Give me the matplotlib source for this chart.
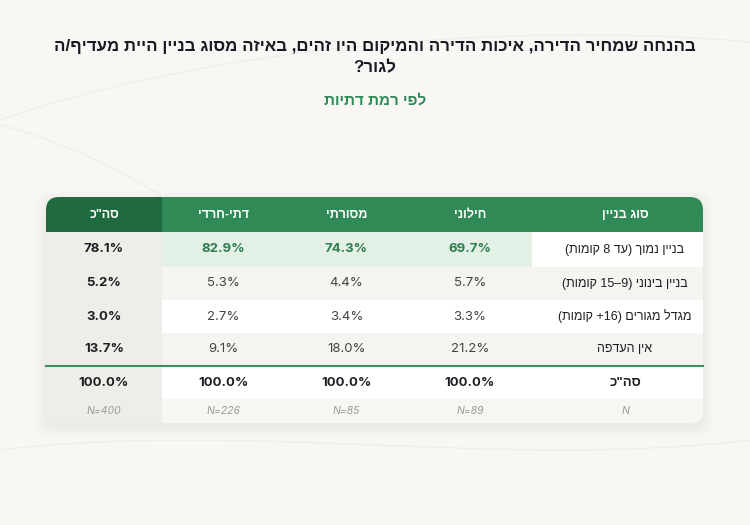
import re
import matplotlib
matplotlib.use("Agg")
import matplotlib.pyplot as plt
from matplotlib.patches import FancyBboxPatch, Rectangle, PathPatch
from matplotlib.path import Path

# נתונים
title_lines = ["בהנחה שמחיר הדירה, איכות הדירה והמיקום היו זהים, באיזה מסוג בניין היית מעדיף/ה",
               "לגור?"]
subtitle = "לפי רמת דתיות"
corner_label = "סוג בניין"
groups = ["חילוני", "מסורתי", "דתי-חרדי"]
total_label = 'סה"כ'
categories = ["בניין נמוך (עד 8 קומות)", "בניין בינוני (9–15 קומות)",
              "מגדל מגורים (16+ קומות)", "אין העדפה"]
secular = [69.7, 5.7, 3.3, 21.2]
traditional = [74.3, 4.4, 3.4, 18.0]
religious = [82.9, 5.3, 2.7, 9.1]
total = [78.1, 5.2, 3.0, 13.7]
col_sums = [100.0, 100.0, 100.0, 100.0]
n_sizes = [89, 85, 226, 400]


def rtl(s):
    # סדר תצוגה ויזואלי לעברית (matplotlib לא תומך ב-bidi)
    parts = re.findall(r'[0-9A-Za-z.%]+|.', s)
    out = ''.join(reversed(parts))
    return out.translate(str.maketrans('()', ')('))


HEB = ['Liberation Sans', 'DejaVu Sans']
NUM = ['Inter', 'Liberation Sans', 'DejaVu Sans']

BG = '#f8f7f3'
GREEN = '#2f8a55'
DARK_GREEN = '#1f6b3f'
LIGHT_GREEN = '#e2f0e6'
ALT = '#f5f4f0'
TOTAL_BG = '#efede8'
INK = '#1a1a26'

fig = plt.figure(figsize=(7.5, 5.25), dpi=100)
fig.patch.set_facecolor(BG)
ax = fig.add_axes([0, 0, 1, 1])
ax.set_xlim(0, 750)
ax.set_ylim(525, 0)
ax.axis('off')

# קווי רקע עדינים
for verts in [[(0, 120), (200, 50), (500, 20), (750, 42)],
              [(0, 450), (250, 420), (500, 470), (750, 440)],
              [(160, 195), (120, 170), (60, 140), (0, 125)]]:
    ax.add_patch(PathPatch(Path(verts, [Path.MOVETO, Path.CURVE4, Path.CURVE4, Path.CURVE4]),
                           fc='none', ec='#efede8', lw=0.8, zorder=0))

# כותרות
ax.text(375, 46, rtl(title_lines[0]), ha='center', va='center', fontsize=12.2,
        fontweight='bold', color=INK, family=HEB)
ax.text(375, 68, rtl(title_lines[1]), ha='center', va='center', fontsize=12.2,
        fontweight='bold', color=INK, family=HEB)
ax.text(375, 100, rtl(subtitle), ha='center', va='center', fontsize=11,
        fontweight='bold', color=GREEN, family=HEB)

# גבולות טבלה
x0, x1 = 46, 703
col_edges = [46, 162, 285, 408, 532, 703]   # סה"כ, דתי-חרדי, מסורתי, חילוני, תווית
row_edges = [197, 232, 267, 300, 333, 366, 399, 423]

# צל
for i, a in enumerate([0.025, 0.02, 0.015, 0.01]):
    pad = 2 + i * 3
    ax.add_patch(FancyBboxPatch((x0 - pad, row_edges[0] - pad + 4), x1 - x0 + 2 * pad,
                                row_edges[-1] - row_edges[0] + 2 * pad,
                                boxstyle='round,pad=0,rounding_size=16', fc='#6b6250',
                                ec='none', alpha=a, zorder=1))

clip = FancyBboxPatch((x0, row_edges[0]), x1 - x0, row_edges[-1] - row_edges[0],
                      boxstyle='round,pad=0,rounding_size=13', fc='white', ec='none', zorder=2)
ax.add_patch(clip)


def cell(c, r, color):
    rect = Rectangle((col_edges[c], row_edges[r]), col_edges[c + 1] - col_edges[c],
                     row_edges[r + 1] - row_edges[r], fc=color, ec='none', zorder=3)
    ax.add_patch(rect)
    rect.set_clip_path(clip)


def cx(c):
    return (col_edges[c] + col_edges[c + 1]) / 2


def cy(r):
    return (row_edges[r] + row_edges[r + 1]) / 2


# כותרת הטבלה
for c in range(5):
    cell(c, 0, DARK_GREEN if c == 0 else GREEN)
header = [total_label] + groups[::-1] + [corner_label]
for c, h in enumerate(header):
    x = 625 if c == 4 else cx(c)
    ax.text(x, cy(0), rtl(h), ha='center', va='center', fontsize=9, fontweight='bold',
            color='white', family=HEB, zorder=5)

# שורות נתונים
cols = [total, religious, traditional, secular]
for i, cat in enumerate(categories):
    r = i + 1
    if i == 0:
        row_bg = LIGHT_GREEN
    elif i % 2 == 1:
        row_bg = ALT
    else:
        row_bg = 'white'
    cell(0, r, TOTAL_BG)
    for c in range(1, 4):
        cell(c, r, row_bg)
    cell(4, r, 'white' if i == 0 else row_bg)
    ax.text(625, cy(r), rtl(cat), ha='center', va='center', fontsize=9,
            color='#1e1e24', family=HEB, zorder=5)
    for c, vals in enumerate(cols):
        if c == 0:
            kw = dict(fontweight='bold', color='#1e1e24')
        elif i == 0:
            kw = dict(fontweight='bold', color='#2e7d4f')
        else:
            kw = dict(color='#444444')
        ax.text(cx(c), cy(r), f"{vals[i]:.1f}%", ha='center', va='center', fontsize=9.5,
                family=NUM, zorder=5, **kw)

# שורת סה"כ
r = 5
cell(0, r, TOTAL_BG)
for c in range(1, 5):
    cell(c, r, 'white')
ax.text(625, cy(r), rtl(total_label), ha='center', va='center', fontsize=9.5,
        fontweight='bold', color='#1e1e24', family=HEB, zorder=5)
for c, v in enumerate(col_sums[::-1]):
    ax.text(cx(c), cy(r), f"{v:.1f}%", ha='center', va='center', fontsize=9.5,
            fontweight='bold', color='#1e1e24', family=NUM, zorder=5)
ax.plot([x0, x1], [row_edges[5], row_edges[5]], color='#3d8f5f', lw=1.5, zorder=6)

# שורת N
r = 6
cell(0, r, TOTAL_BG)
for c in range(1, 5):
    cell(c, r, '#f7f6f2')
ax.text(625, cy(r), "N", ha='center', va='center', fontsize=7.5, style='italic',
        color='#9a9a9a', family=NUM, zorder=5)
for c, n in enumerate(n_sizes[::-1]):
    ax.text(cx(c), cy(r), f"N={n}", ha='center', va='center', fontsize=7.5,
            style='italic', color='#9a9a9a', family=NUM, zorder=5)

fig.savefig('out.png', dpi=100, facecolor=BG)
